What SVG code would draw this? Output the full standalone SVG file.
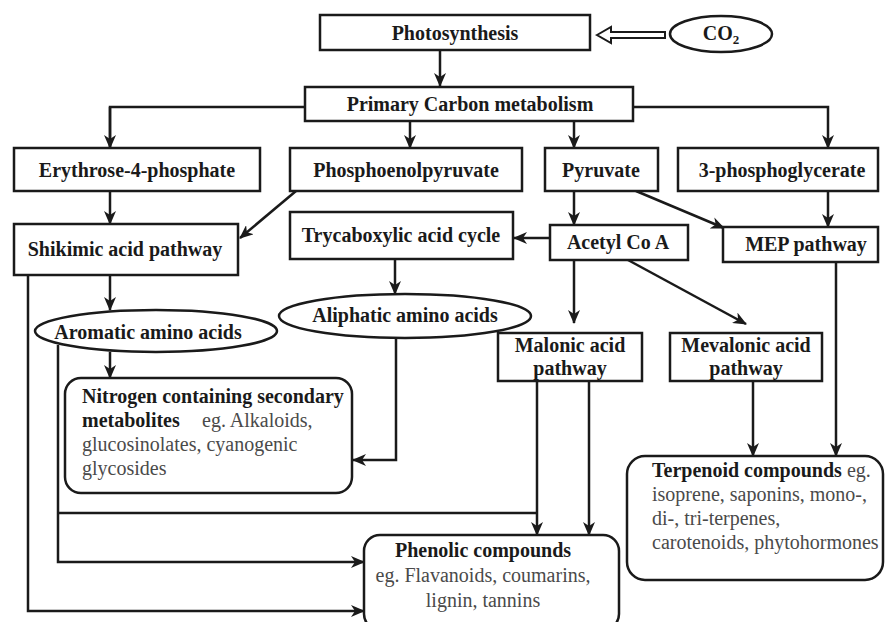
<svg xmlns="http://www.w3.org/2000/svg" width="885" height="622" viewBox="0 0 885 622">
  <defs>
    <marker id="arr" markerUnits="userSpaceOnUse" markerWidth="14" markerHeight="12" refX="13" refY="6" orient="auto">
      <path d="M0,0 L14,6 L0,12 L4,6 Z" fill="#1a1a1a"/>
    </marker>
    <style>
      .box { fill: #fff; stroke: #1a1a1a; stroke-width: 2.5; }
      .ln { fill: none; stroke: #1a1a1a; stroke-width: 2.5; }
      .t { font-family: "Liberation Serif", "Times New Roman", serif; font-size: 20px; font-weight: bold; fill: #1a1a1a; }
      .c { text-anchor: middle; }
      .n { font-weight: normal; fill: #4a4a4a; }
    </style>
  </defs>
  <rect width="885" height="622" fill="#fff"/>

  <g id="connectors">
    <line class="ln" x1="440" y1="50" x2="440" y2="86" marker-end="url(#arr)"/>
    <polygon points="597,35 611,27 611,32 665,32 665,38 611,38 611,43" fill="#fff" stroke="#1a1a1a" stroke-width="2"/>
    <polyline class="ln" points="110,148 110,107 828,107 828,148" marker-end="url(#arr)"/>
    <line class="ln" x1="110" y1="107" x2="110" y2="148" marker-end="url(#arr)"/>
    <line class="ln" x1="410" y1="121" x2="410" y2="148" marker-end="url(#arr)"/>
    <line class="ln" x1="574" y1="121" x2="574" y2="148" marker-end="url(#arr)"/>
    <line class="ln" x1="110" y1="191" x2="110" y2="224" marker-end="url(#arr)"/>
    <line class="ln" x1="296" y1="191" x2="240" y2="238" marker-end="url(#arr)"/>
    <line class="ln" x1="574" y1="191" x2="574" y2="225" marker-end="url(#arr)"/>
    <line class="ln" x1="636" y1="191" x2="724" y2="228" marker-end="url(#arr)"/>
    <line class="ln" x1="828" y1="191" x2="828" y2="227" marker-end="url(#arr)"/>
    <line class="ln" x1="550" y1="238" x2="514" y2="238" marker-end="url(#arr)"/>
    <line class="ln" x1="395" y1="259" x2="395" y2="294" marker-end="url(#arr)"/>
    <line class="ln" x1="110" y1="275" x2="110" y2="310" marker-end="url(#arr)"/>
    <polyline class="ln" points="28,275 28,611 364,611" marker-end="url(#arr)"/>
    <line class="ln" x1="110" y1="352" x2="110" y2="378" marker-end="url(#arr)"/>
    <polyline class="ln" points="58,345 58,562 364,562" marker-end="url(#arr)"/>
    <line class="ln" x1="58" y1="513" x2="537" y2="513"/>
    <line class="ln" x1="537" y1="381" x2="537" y2="535" marker-end="url(#arr)"/>
    <line class="ln" x1="589" y1="381" x2="589" y2="535" marker-end="url(#arr)"/>
    <polyline class="ln" points="396,338 396,460 353,460" marker-end="url(#arr)"/>
    <line class="ln" x1="574" y1="260" x2="574" y2="323" marker-end="url(#arr)"/>
    <line class="ln" x1="628" y1="260" x2="746" y2="324" marker-end="url(#arr)"/>
    <line class="ln" x1="836" y1="262" x2="836" y2="456" marker-end="url(#arr)"/>
    <line class="ln" x1="753" y1="381" x2="753" y2="456" marker-end="url(#arr)"/>
  </g>

  <g id="photosynthesis">
    <rect class="box" x="320" y="15" width="270" height="35"/>
    <text class="t c" x="455" y="40">Photosynthesis</text>
  </g>
  <g id="co2">
    <ellipse class="box" cx="721" cy="34" rx="51" ry="18"/>
    <text class="t c" x="721" y="40">CO<tspan font-size="13" dy="4">2</tspan></text>
  </g>
  <g id="primary">
    <rect class="box" x="305" y="87" width="328" height="34"/>
    <text class="t c" x="470" y="111">Primary Carbon metabolism</text>
  </g>
  <g id="erythrose">
    <rect class="box" x="14" y="148" width="246" height="43"/>
    <text class="t c" x="137" y="177">Erythrose-4-phosphate</text>
  </g>
  <g id="pep">
    <rect class="box" x="290" y="148" width="232" height="43"/>
    <text class="t c" x="406" y="177">Phosphoenolpyruvate</text>
  </g>
  <g id="pyruvate">
    <rect class="box" x="545" y="148" width="113" height="43"/>
    <text class="t c" x="601" y="177">Pyruvate</text>
  </g>
  <g id="pga">
    <rect class="box" x="678" y="148" width="200" height="43"/>
    <text class="t c" x="782" y="177">3-phosphoglycerate</text>
  </g>
  <g id="shikimic">
    <rect class="box" x="14" y="224" width="224" height="51"/>
    <text class="t c" x="125" y="256">Shikimic acid pathway</text>
  </g>
  <g id="tca">
    <rect class="box" x="290" y="212" width="223" height="47"/>
    <text class="t c" x="401" y="242">Trycaboxylic acid cycle</text>
  </g>
  <g id="acetyl">
    <rect class="box" x="550" y="225" width="138" height="35"/>
    <text class="t c" x="618" y="249">Acetyl Co A</text>
  </g>
  <g id="mep">
    <rect class="box" x="723" y="227" width="155" height="35"/>
    <text class="t c" x="806" y="251">MEP pathway</text>
  </g>
  <g id="aromatic">
    <ellipse class="box" cx="156" cy="331" rx="121" ry="21"/>
    <text class="t c" x="148" y="339">Aromatic amino acids</text>
  </g>
  <g id="aliphatic">
    <ellipse class="box" cx="405" cy="316" rx="126" ry="22"/>
    <text class="t c" x="405" y="322">Aliphatic amino acids</text>
  </g>
  <g id="malonic">
    <rect class="box" x="498" y="333" width="144" height="48"/>
    <text class="t c" x="570" y="352">Malonic acid</text>
    <text class="t c" x="570" y="375">pathway</text>
  </g>
  <g id="mevalonic">
    <rect class="box" x="670" y="333" width="152" height="48"/>
    <text class="t c" x="746" y="352">Mevalonic acid</text>
    <text class="t c" x="746" y="375">pathway</text>
  </g>
  <g id="nitrogen">
    <rect class="box" x="65" y="378" width="287" height="115" rx="16"/>
    <text class="t" x="82" y="403">Nitrogen containing secondary</text>
    <text class="t" x="82" y="427">metabolites<tspan class="n" x="202">eg. Alkaloids,</tspan></text>
    <text class="t n" x="82" y="451">glucosinolates, cyanogenic</text>
    <text class="t n" x="82" y="475">glycosides</text>
  </g>
  <g id="terpenoid">
    <rect class="box" x="627" y="456" width="256" height="124" rx="18"/>
    <text class="t" x="652" y="477">Terpenoid compounds<tspan class="n"> eg.</tspan></text>
    <text class="t n" x="652" y="501">isoprene, saponins, mono-,</text>
    <text class="t n" x="652" y="525">di-, tri-terpenes,</text>
    <text class="t n" x="652" y="549">carotenoids, phytohormones</text>
  </g>
  <g id="phenolic">
    <rect class="box" x="364" y="535" width="255" height="95" rx="16"/>
    <text class="t c" x="483" y="557">Phenolic compounds</text>
    <text class="t c n" x="483" y="582">eg. Flavanoids, coumarins,</text>
    <text class="t c n" x="483" y="607">lignin, tannins</text>
  </g>
</svg>
